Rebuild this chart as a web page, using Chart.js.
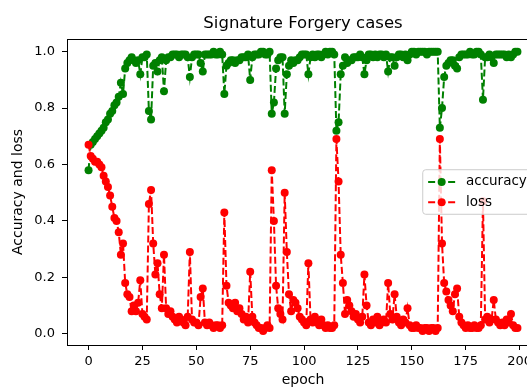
<!DOCTYPE html>
<html>
<head>
<meta charset="utf-8">
<script src="https://cdn.jsdelivr.net/npm/chart.js@4/dist/chart.umd.min.js"></script>
<style>
  html, body { margin: 0; padding: 0; overflow: hidden; background: #fff; }
  #chart { display: block; }
</style>
</head>
<body>
<canvas id="chart" width="560" height="387" style="width:560px;height:387px"></canvas>
<script>
// Series, one value per epoch (0..199)
const accuracy = [
  0.58, 0.67, 0.68, 0.69, 0.70, 0.71, 0.72, 0.73, 0.75, 0.76,
  0.78, 0.79, 0.81, 0.82, 0.84, 0.89, 0.85, 0.94, 0.96, 0.97,
  0.98, 0.97, 0.96, 0.97, 0.92, 0.98, 0.98, 0.99, 0.79, 0.76,
  0.95, 0.96, 0.93, 0.97, 0.98, 0.86, 0.97, 0.98, 0.98, 0.99,
  0.99, 0.99, 0.98, 0.99, 0.99, 0.99, 0.98, 0.91, 0.98, 0.99,
  0.99, 0.99, 0.96, 0.93, 0.99, 0.99, 0.99, 0.99, 1.00, 0.99,
  0.99, 1.00, 0.99, 0.85, 0.95, 0.96, 0.97, 0.97, 0.96, 0.97,
  0.97, 0.98, 0.98, 0.98, 0.99, 0.90, 0.98, 0.99, 0.99, 0.99,
  1.00, 1.00, 0.99, 0.99, 1.00, 0.78, 0.82, 0.94, 0.97, 0.98,
  0.98, 0.78, 0.92, 0.95, 0.97, 0.96, 0.97, 0.97, 0.98, 0.99,
  0.99, 0.99, 0.92, 0.98, 0.99, 0.98, 0.99, 0.99, 0.98, 0.99,
  1.00, 0.99, 1.00, 1.00, 0.99, 0.72, 0.75, 0.92, 0.95, 0.98,
  0.96, 0.97, 0.97, 0.98, 0.98, 0.98, 0.99, 0.98, 0.92, 0.97,
  0.99, 0.99, 0.98, 0.99, 0.98, 0.99, 0.99, 0.98, 0.99, 0.93,
  0.98, 0.98, 0.95, 0.98, 0.99, 0.99, 0.98, 0.99, 0.97, 0.99,
  1.00, 1.00, 0.99, 1.00, 1.00, 1.00, 1.00, 0.99, 1.00, 1.00,
  1.00, 1.00, 1.00, 0.73, 0.80, 0.91, 0.95, 0.96, 0.97, 0.97,
  0.95, 0.94, 0.98, 0.99, 0.99, 0.99, 0.99, 1.00, 0.99, 0.99,
  1.00, 1.00, 0.99, 0.83, 0.98, 0.98, 0.99, 0.98, 0.96, 0.99,
  0.99, 0.99, 0.99, 0.99, 0.98, 0.99, 0.98, 0.99, 1.00, 1.00
];

const loss = [
  0.67, 0.63, 0.62, 0.61, 0.61, 0.60, 0.59, 0.56, 0.54, 0.52,
  0.49, 0.45, 0.41, 0.40, 0.36, 0.28, 0.32, 0.18, 0.14, 0.13,
  0.08, 0.10, 0.08, 0.11, 0.19, 0.07, 0.06, 0.05, 0.46, 0.51,
  0.32, 0.21, 0.25, 0.14, 0.09, 0.28, 0.09, 0.07, 0.08, 0.06,
  0.05, 0.04, 0.06, 0.05, 0.04, 0.03, 0.06, 0.29, 0.05, 0.04,
  0.04, 0.03, 0.13, 0.16, 0.04, 0.03, 0.04, 0.03, 0.02, 0.03,
  0.03, 0.02, 0.03, 0.43, 0.17, 0.11, 0.10, 0.09, 0.11, 0.08,
  0.09, 0.07, 0.05, 0.06, 0.04, 0.22, 0.06, 0.04, 0.03, 0.02,
  0.02, 0.01, 0.02, 0.03, 0.02, 0.58, 0.40, 0.17, 0.09, 0.07,
  0.05, 0.50, 0.29, 0.14, 0.08, 0.12, 0.11, 0.09, 0.06, 0.05,
  0.04, 0.03, 0.25, 0.05, 0.04, 0.06, 0.04, 0.03, 0.05, 0.03,
  0.02, 0.03, 0.02, 0.02, 0.03, 0.69, 0.54, 0.28, 0.18, 0.07,
  0.12, 0.10, 0.08, 0.06, 0.07, 0.05, 0.04, 0.06, 0.21, 0.10,
  0.04, 0.03, 0.05, 0.04, 0.06, 0.03, 0.04, 0.05, 0.04, 0.18,
  0.07, 0.05, 0.14, 0.06, 0.04, 0.03, 0.05, 0.04, 0.09, 0.03,
  0.02, 0.02, 0.03, 0.02, 0.02, 0.01, 0.02, 0.02, 0.01, 0.02,
  0.02, 0.01, 0.02, 0.69, 0.32, 0.18, 0.15, 0.12, 0.10, 0.08,
  0.14, 0.16, 0.06, 0.04, 0.03, 0.02, 0.03, 0.02, 0.02, 0.03,
  0.02, 0.02, 0.03, 0.47, 0.05, 0.06, 0.04, 0.05, 0.12, 0.05,
  0.04, 0.03, 0.04, 0.03, 0.05, 0.04, 0.07, 0.03, 0.02, 0.02
];

const seriesNames = ['accuracy', 'loss'];
const xTicks = [0, 25, 50, 75, 100, 125, 150, 175, 200];
const yTicks = [0.0, 0.2, 0.4, 0.6, 0.8, 1.0];

// epoch index for each value
const epochs = accuracy.map((_, i) => i);

const FONT = "'DejaVu Sans', sans-serif";
const DASH = [7, 3];

// matplotlib-like box around the axes + legend at centre right
const frameAndLegend = {
    id: 'frameAndLegend',
    afterDraw(chart) {
        const ctx = chart.ctx;
        const a = chart.chartArea;
        ctx.save();
        ctx.strokeStyle = '#000';
        ctx.lineWidth = 1;
        ctx.strokeRect(a.left + 0.5, a.top + 0.5, a.right - a.left, a.bottom - a.top);

        // legend
        const fs = 13.5;
        const pad = 0.4 * fs, handle = 2 * fs, gap = 0.8 * fs, spacing = 0.5 * fs;
        ctx.font = fs + 'px ' + FONT;
        const sets = chart.data.datasets;
        const textW = Math.max(...sets.map(d => ctx.measureText(d.label).width));
        const w = pad * 2 + handle + gap + textW;
        const h = pad * 2 + sets.length * fs + (sets.length - 1) * spacing;
        const x = a.right - 0.5 * fs - w;
        const y = (a.top + a.bottom) / 2 - h / 2;
        ctx.beginPath();
        ctx.roundRect(x, y, w, h, 3);
        ctx.fillStyle = 'rgba(255,255,255,0.8)';
        ctx.fill();
        ctx.strokeStyle = '#cccccc';
        ctx.stroke();
        sets.forEach((d, i) => {
            const cy = y + pad + fs / 2 + i * (fs + spacing);
            const x0 = x + pad;
            ctx.setLineDash(DASH);
            ctx.strokeStyle = d.borderColor;
            ctx.lineWidth = 2;
            ctx.beginPath();
            ctx.moveTo(x0, cy);
            ctx.lineTo(x0 + handle, cy);
            ctx.stroke();
            ctx.setLineDash([]);
            ctx.fillStyle = d.pointBackgroundColor;
            ctx.beginPath();
            ctx.arc(x0 + handle / 2, cy, 4, 0, Math.PI * 2);
            ctx.fill();
            ctx.fillStyle = '#000';
            ctx.textBaseline = 'middle';
            ctx.textAlign = 'left';
            ctx.fillText(d.label, x0 + handle + gap, cy);
        });
        ctx.restore();
    }
};

function makeSet(label, values, color, order) {
    return {
        label: label,
        data: values.map((v, i) => ({ x: epochs[i], y: v })),
        borderColor: color,
        backgroundColor: color,
        pointBackgroundColor: color,
        pointBorderColor: color,
        borderWidth: 2,
        borderDash: DASH,
        pointRadius: 4,
        pointBorderWidth: 0,
        tension: 0,
        fill: false,
        order: order
    };
}

const ctx = document.getElementById('chart').getContext('2d');
new Chart(ctx, {
    type: 'line',
    data: {
        datasets: [
            makeSet(seriesNames[0], accuracy, '#008000', 1),
            makeSet(seriesNames[1], loss, '#ff0000', 0)
        ]
    },
    options: {
        responsive: false,
        animation: false,
        devicePixelRatio: 1,
        layout: { padding: { left: 0, right: 21, top: 0, bottom: 0 } },
        plugins: {
            legend: { display: false },
            tooltip: { enabled: false },
            title: {
                display: true,
                text: 'Signature Forgery cases',
                fullSize: false,
                color: '#000',
                font: { family: FONT, size: 16.5, weight: 'normal', lineHeight: 1.2 },
                padding: { top: 13.5, bottom: 5.7 }
            }
        },
        scales: {
            x: {
                type: 'linear',
                min: -10,
                max: 209,
                afterBuildTicks: s => { s.ticks = xTicks.map(v => ({ value: v })); },
                afterFit: s => { s.height = 42; },
                ticks: {
                    color: '#000',
                    padding: 4,
                    maxRotation: 0,
                    font: { family: FONT, size: 13 },
                    callback: v => String(v)
                },
                grid: { drawOnChartArea: false, drawTicks: true, tickLength: 5, color: '#000' },
                border: { display: true, color: '#000', width: 1 },
                title: {
                    display: true,
                    text: 'epoch',
                    color: '#000',
                    font: { family: FONT, size: 14, lineHeight: 1 },
                    padding: { top: 0, bottom: 0 }
                }
            },
            y: {
                min: -0.04,
                max: 1.045,
                afterBuildTicks: s => { s.ticks = yTicks.map(v => ({ value: v })); },
                afterFit: s => { s.width = 67; },
                ticks: {
                    color: '#000',
                    padding: 7,
                    font: { family: FONT, size: 13 },
                    callback: v => v.toFixed(1)
                },
                grid: { drawOnChartArea: false, drawTicks: true, tickLength: 5, color: '#000' },
                border: { display: true, color: '#000', width: 1 },
                title: {
                    display: true,
                    text: 'Accuracy and loss',
                    color: '#000',
                    font: { family: FONT, size: 14, lineHeight: 1.2 },
                    padding: { top: 10, bottom: 0 }
                }
            }
        }
    },
    plugins: [frameAndLegend]
});
</script>
</body>
</html>
